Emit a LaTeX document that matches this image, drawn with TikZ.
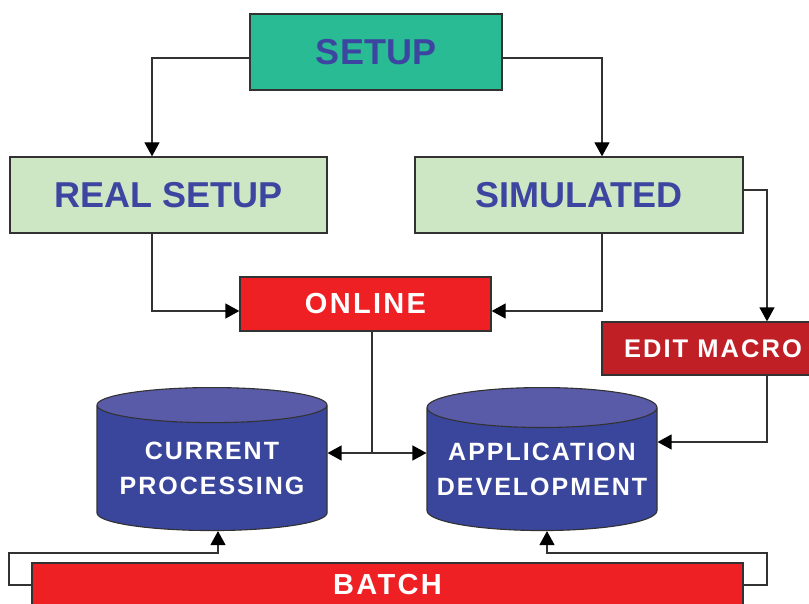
\documentclass[tikz,border=0pt]{standalone}
\usepackage{fontspec}
\setmainfont{Liberation Sans}
\newfontfamily\spacedfont[LetterSpace=8]{Liberation Sans}
\usepackage{tikz}
\usetikzlibrary{shapes.geometric,arrows.meta,calc,positioning}
\definecolor{setupgreen}{RGB}{41,187,147}
\definecolor{palegreen}{RGB}{205,230,196}
\definecolor{textblue}{RGB}{60,70,160}
\definecolor{onlinered}{RGB}{238,32,36}
\definecolor{macrored}{RGB}{192,31,38}
\definecolor{cylbody}{RGB}{58,70,156}
\definecolor{cyltop}{RGB}{90,91,168}
\definecolor{edgegray}{RGB}{50,50,50}

\begin{document}
\begin{tikzpicture}[x=1pt,y=-1pt,
  box/.style={draw=edgegray,line width=1.3pt,rectangle,inner sep=0pt},
  bluebox/.style={box,text=textblue,font=\fontsize{36}{40}\selectfont\bfseries},
  redbox/.style={box,text=white,font=\fontsize{29}{32}\selectfont\spacedfont\bfseries},
  store/.style={draw=edgegray,line width=1.1pt,cylinder,shape border rotate=90,aspect=0.19,
    cylinder uses custom fill,cylinder body fill=cylbody,cylinder end fill=cyltop,
    minimum width=230pt,minimum height=143pt,inner sep=0pt,align=center,text=white,
    font=\fontsize{25}{35}\selectfont\spacedfont\bfseries},
  arr/.style={draw=edgegray,line width=1.3pt,-{Triangle[length=14pt,width=15pt,color=black]}}
]
\useasboundingbox (0,0) rectangle (809,604);
\clip (0,0) rectangle (809,604);

% the boxes
\node [bluebox,fill=setupgreen,minimum width=252pt,minimum height=76pt] (setup) at (376,52) {SETUP};
\node [bluebox,fill=palegreen,minimum width=317pt,minimum height=76pt] (real) at (168.5,195) {REAL SETUP};
\node [bluebox,fill=palegreen,minimum width=328pt,minimum height=76pt] (sim) at (579,195) {SIMULATED};
\node [redbox,fill=onlinered,minimum width=251pt,minimum height=54pt] (online) at (365.5,304) {ONLINE};
\node [redbox,fill=macrored,minimum width=222pt,minimum height=53pt,
  font=\fontsize{25.5}{28}\selectfont\spacedfont\bfseries] (edit) at (713,348.5) {EDIT MACRO};
\node [redbox,fill=onlinered,minimum width=711pt,minimum height=44pt] (batch) at (387.5,585) {BATCH};

% the stores
\node [store,anchor=north] (cur) at (212,387) {CURRENT\\PROCESSING};
\node [store,anchor=north] (app) at (542,387) {APPLICATION\\DEVELOPMENT};

% the edges
\coordinate (split) at (372,453);
\draw [arr] ([yshift=-6pt]setup.west) -| ([xshift=-16.5pt]real.north);
\draw [arr] ([yshift=-6pt]setup.east) -| ([xshift=23pt]sim.north);
\draw [arr] ([xshift=-16.5pt]real.south) |- ([yshift=-7pt]online.west);
\draw [arr] ([xshift=23pt]sim.south) |- ([yshift=-7pt]online.east);
\draw [arr] ([yshift=5pt]sim.east) -| ([xshift=54pt]edit.north);
\draw [arr] ([xshift=54pt]edit.south) |- (app.east |- 0,442);
\draw [draw=edgegray,line width=1.3pt] (online.south -| split) -- (split);
\draw [arr] (split) -- (cur.east |- split);
\draw [arr] (split) -- (app.west |- split);
\draw [arr] (batch.west) -| (9,553) -| ([xshift=6pt]cur.south);
\draw [arr] (batch.east) -| (767,553) -| ([xshift=5pt]app.south);
\end{tikzpicture}
\end{document}
